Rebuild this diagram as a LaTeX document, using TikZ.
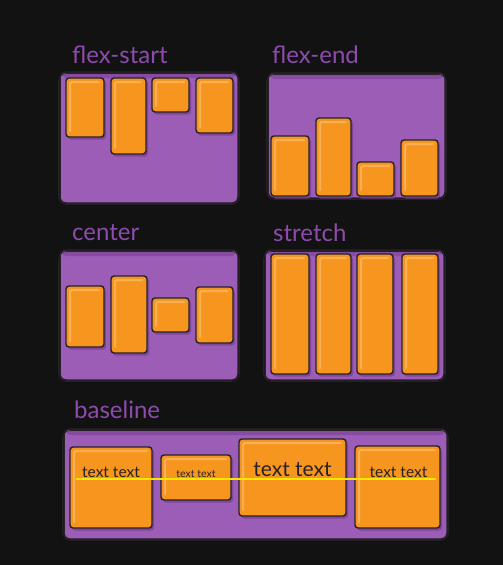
\documentclass[tikz,border=0pt]{standalone}
\usepackage{fontspec}
\setmainfont{Lato}
\usetikzlibrary{shadows}
\definecolor{bg}{HTML}{121212}
\definecolor{amethyst}{HTML}{9B5DB6}
\definecolor{plum}{HTML}{7A3F96}
\definecolor{ink}{HTML}{262126}
\definecolor{tangerine}{HTML}{F7961F}
\definecolor{titlepurple}{HTML}{8E4BAE}
\definecolor{baseyellow}{HTML}{F6E600}
\begin{document}
\begin{tikzpicture}[x=1pt,y=-1pt,
    box/.style={fill=amethyst,draw=ink,line width=1.5pt,rounded corners=6pt},
    item/.style={fill=tangerine,draw=ink,line width=1.4pt,rounded corners=3pt,
      drop shadow={shadow xshift=2pt,shadow yshift=-2.5pt,fill=plum,opacity=.8}},
    title/.style={text=titlepurple,font=\fontsize{24}{24}\selectfont,anchor=base west,inner sep=0pt},
    label/.style={text=ink,anchor=base,inner sep=0pt}]
  \fill[bg](0,0)rectangle(503,565);
  % containers
  \foreach \l/\t/\r/\b in{60/72/238/203,268/73/445/198,60/250/238/380,265/250/444/380,64/429/447/539}{
    \draw[box](\l,\t)rectangle(\r,\b);
    \fill[plum,opacity=.6,rounded corners=3pt](\l+3,\t+2)rectangle(\r-3,\t+6);
    \draw[ink,line width=.7pt,rounded corners=8pt](\l-1.5,\t+1.5)rectangle(\r+1.5,\b+1.5);
  }
  % titles
  \node[title](fs)at(72,63){flex-start};
  \node[title](fe)at(272,63){flex-end};
  \node[title](ce)at(72,240){center};
  \node[title](st)at(273,241){stretch};
  \node[title](bl)at(74,418){baseline};
  % items
  \foreach \l/\t/\r/\b in{66/78/104/137,111/78/146/154,152/78/189/112,196/78/233/133,
      271/136/309/196,316/118/351/196,357/162/394/196,401/140/438/196,
      66/286/104/347,111/276/147/353,152/298/189/332,196/287/233/343,
      271/254/309/374,316/254/351/374,357/254/393/374,402/254/438/374,
      70/447/152/528,161/455/231/500,239/439/346/516,355/446/440/528}{
    \draw[item](\l,\t)rectangle(\r,\b);
    \draw[white,opacity=.25,line width=2pt,line cap=round,rounded corners=2pt]
      (\l+4,\b-6)--(\l+4,\t+4)--(\r-5,\t+4);
  }
  % baseline texts
  \node[label,font=\fontsize{15.5}{15.5}\selectfont](t1)at(111,477){text text};
  \node[label,font=\fontsize{10.5}{10.5}\selectfont](t2)at(196,477){text text};
  \node[label,font=\fontsize{21}{21}\selectfont](t3)at(292.5,476){text text};
  \node[label,font=\fontsize{15.5}{15.5}\selectfont](t4)at(398.5,477){text text};
  \coordinate(y0)at(76,479);
  \coordinate(y1)at(436,479);
  \draw[baseyellow,line width=2.5pt](y0)--(y1);
\end{tikzpicture}
\end{document}
